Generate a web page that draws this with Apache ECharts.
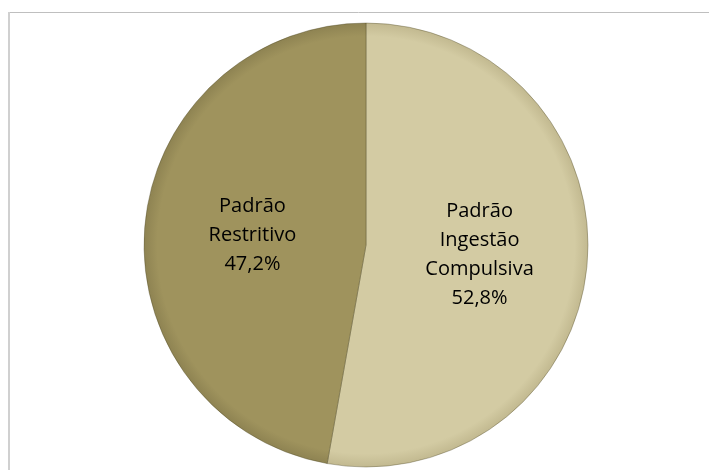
<!DOCTYPE html>
<html>
<head>
<meta charset="utf-8">
<style>
  html, body { margin: 0; padding: 0; background: #ffffff; }
  #chart { width: 709px; height: 470px; }
</style>
<script src="https://cdn.jsdelivr.net/npm/echarts@6/dist/echarts.min.js"></script>
</head>
<body>
<div id="chart"></div>
<script>
// Eating pattern distribution (percent)
const categories = ['Padrão Ingestão Compulsiva', 'Padrão Restritivo'];
const shares = [52.8, 47.2];
const sliceColors = ['#D3CBA3', '#9F935D'];
const sliceEdges = ['#C2B990', '#8E8352'];

const chart = echarts.init(document.getElementById('chart'), null, { renderer: 'canvas' });

const cx = 366, cy = 245, rad = 222;

// soft darkening toward the rim for a bevelled look
function shaded(i) {
  return {
    type: 'radial', x: cx, y: cy, r: rad, global: true,
    colorStops: [
      { offset: 0, color: sliceColors[i] },
      { offset: 0.94, color: sliceColors[i] },
      { offset: 1, color: sliceEdges[i] }
    ]
  };
}

chart.setOption({
  backgroundColor: '#ffffff',
  animation: false,
  graphic: [
    { type: 'line', shape: { x1: 8, y1: 12.5, x2: 709, y2: 12.5 }, style: { stroke: '#bfbfbf', lineWidth: 1 }, silent: true },
    { type: 'line', shape: { x1: 9, y1: 12, x2: 9, y2: 470 }, style: { stroke: '#d0d0d0', lineWidth: 2 }, silent: true }
  ],
  series: [{
    type: 'pie',
    center: [cx, cy],
    radius: rad,
    startAngle: 90,
    clockwise: true,
    avoidLabelOverlap: false,
    itemStyle: { borderColor: 'rgba(70,62,30,0.35)', borderWidth: 1 },
    label: {
      show: true,
      position: 'inside',
      color: '#000000',
      fontFamily: 'Open Sans',
      fontSize: 20,
      lineHeight: 29,
      formatter: p => p.name.split(' ').join('\n') + '\n' + p.value.toFixed(1).replace('.', ',') + '%'
    },
    labelLine: { show: false },
    emphasis: { disabled: true },
    data: categories.map((name, i) => ({
      name: name,
      value: shares[i],
      itemStyle: { color: shaded(i) }
    }))
  }]
});
</script>
</body>
</html>
